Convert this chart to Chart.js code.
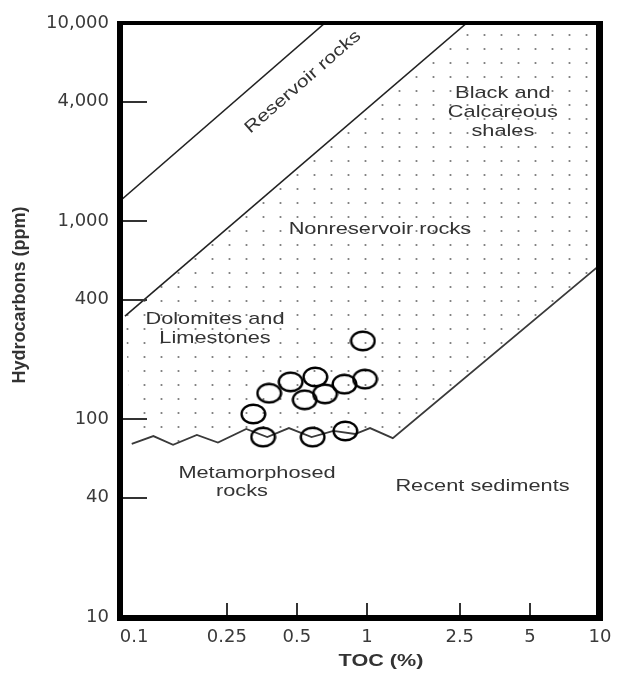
<!DOCTYPE html>
<html>
<head>
<meta charset="utf-8">
<script src="https://cdn.jsdelivr.net/npm/chart.js@4.4.1/dist/chart.umd.min.js"></script>
<style>
  html, body { margin: 0; padding: 0; background: #fff; }
  canvas { display: block; }
</style>
</head>
<body>
<canvas id="toc-chart" width="624" height="673"></canvas>
<script>
// axis limits and tick labels (log-log)
const xMin = 0.087, xMax = 10;
const yMin = 10, yMax = 10000;
const xTicks = [0.1, 0.25, 0.5, 1, 2.5, 5, 10];
const yTicks = [10, 40, 100, 400, 1000, 4000, 10000];
const xInnerTicks = [0.25, 0.5, 1, 2.5, 5];
const yInnerTicks = [40, 100, 400, 1000, 4000];

// samples (open circles)
const sampleToc = [0.96, 0.47, 0.60, 0.38, 0.54, 0.66, 0.80, 0.98, 0.325, 0.358, 0.584, 0.807];
const sampleHc  = [248, 154, 163, 135, 125, 134, 150, 159, 106, 81, 81, 87];

// upper limit of reservoir rocks
const reservoirTopToc = [0.087, 0.66];
const reservoirTopHc  = [1262, 10000];
// reservoir / nonreservoir boundary
const reservoirBaseToc = [0.0914, 2.68];
const reservoirBaseHc  = [331, 10000];
// metamorphosed zigzag, then recent sediments boundary
const lowerToc = [0.0977, 0.121, 0.147, 0.186, 0.229, 0.303, 0.373, 0.462, 0.578, 0.717, 0.889, 1.03, 1.29, 10];
const lowerHc  = [74.8, 82, 74, 83, 76, 89, 81, 90, 81, 87, 84, 90, 80, 600];

function pts(xs, ys) {
    return xs.map((x, i) => ({x: x, y: ys[i]}));
}

// dotted area = nonreservoir rocks field
let stipple = pts(reservoirBaseToc, reservoirBaseHc);
stipple.push({x: xMax, y: yMax});
stipple = stipple.concat(pts(lowerToc, lowerHc).reverse());

const canvas = document.getElementById('toc-chart');
const ctx = canvas.getContext('2d');

function dotPattern() {
    let c = document.createElement('canvas');
    c.width = 17; c.height = 14;
    let g = c.getContext('2d');
    g.fillStyle = '#7a7a7a';
    g.beginPath();
    g.arc(8.5, 7, 1.1, 0, Math.PI * 2);
    g.fill();
    return ctx.createPattern(c, 'repeat');
}

function ellipseMarker(w, h, lw) {
    let c = document.createElement('canvas');
    c.width = w; c.height = h;
    let g = c.getContext('2d');
    g.strokeStyle = '#000';
    g.lineWidth = lw;
    g.beginPath();
    g.ellipse(w / 2, h / 2, w / 2 - lw / 2 - 0.5, h / 2 - lw / 2 - 0.5, 0, 0, Math.PI * 2);
    g.stroke();
    return c;
}

// text labels, anchored in data units
const fieldLabels = [
    {lines: ['Black and', 'Calcareous', 'shales'], x: 3.83, y: 3556},
    {lines: ['Nonreservoir rocks'], x: 1.136, y: 912},
    {lines: ['Dolomites and', 'Limestones'], x: 0.2225, y: 286},
    {lines: ['Metamorphosed'], x: 0.337, y: 53.4},
    {lines: ['rocks'], x: 0.2905, y: 43.2},
    {lines: ['Recent sediments'], x: 3.13, y: 45.9}
];

function stretchText(c, text, x, y, font, stretch, angle) {
    c.save();
    c.translate(x, y);
    if (angle) c.rotate(angle);
    c.scale(stretch, 1);
    c.font = font;
    c.fillStyle = '#333';
    c.textAlign = 'center';
    c.textBaseline = 'middle';
    c.fillText(text, 0, 0);
    c.restore();
}

const decorPlugin = {
    id: 'decor',
    afterDatasetsDraw(chart) {
        const c = chart.ctx;
        const xs = chart.scales.x, ys = chart.scales.y;
        const a = chart.chartArea;

        // inner tick marks
        c.save();
        c.strokeStyle = '#333';
        c.lineWidth = 2;
        yInnerTicks.forEach(v => {
            let py = Math.round(ys.getPixelForValue(v));
            c.beginPath(); c.moveTo(a.left, py); c.lineTo(a.left + 27, py); c.stroke();
        });
        xInnerTicks.forEach(v => {
            let px = Math.round(xs.getPixelForValue(v));
            c.beginPath(); c.moveTo(px, a.bottom); c.lineTo(px, a.bottom - 14); c.stroke();
        });

        // heavy frame
        c.fillStyle = '#000';
        c.fillRect(a.left - 3, a.top - 2, 6, a.bottom - a.top + 6);
        c.fillRect(a.left - 3, a.bottom - 2, a.right - a.left + 6, 6);
        c.fillRect(a.right - 4, a.top - 2, 7, a.bottom - a.top + 6);
        c.fillRect(a.left - 3, a.top - 2, a.right - a.left + 6, 4);
        c.restore();

        const font = '17px "Liberation Sans", Arial, sans-serif';
        fieldLabels.forEach(l => {
            let px = xs.getPixelForValue(l.x);
            let py = ys.getPixelForValue(l.y);
            let top = py - (l.lines.length - 1) * 19 / 2;
            l.lines.forEach((t, i) => stretchText(c, t, px, top + i * 19, font, 1.28, 0));
        });

        // rotated label along the upper reservoir line
        let x0 = xs.getPixelForValue(reservoirTopToc[0]), y0 = ys.getPixelForValue(reservoirTopHc[0]);
        let x1 = xs.getPixelForValue(reservoirTopToc[1]), y1 = ys.getPixelForValue(reservoirTopHc[1]);
        let ang = Math.atan2(y1 - y0, x1 - x0);
        stretchText(c, 'Reservoir rocks', xs.getPixelForValue(0.531), ys.getPixelForValue(5035), font, 1.25, ang);

        // axis titles
        stretchText(c, 'TOC (%)', 381, 661, 'bold 17px "Liberation Sans", Arial, sans-serif', 1.27, 0);
        stretchText(c, 'Hydrocarbons (ppm)', 20, 295, 'bold 18px "Liberation Sans", Arial, sans-serif', 1, -Math.PI / 2);
    }
};

const tickFont = {family: '"DejaVu Sans", sans-serif', size: 18};

new Chart(canvas, {
    type: 'scatter',
    data: {
        datasets: [
            {
                data: pts(sampleToc, sampleHc),
                pointStyle: ellipseMarker(27, 22, 2.4),
                pointRadius: 11,
                showLine: false
            },
            {
                data: pts(reservoirTopToc, reservoirTopHc),
                showLine: true, borderColor: '#222', borderWidth: 1.6, pointRadius: 0
            },
            {
                data: pts(reservoirBaseToc, reservoirBaseHc),
                showLine: true, borderColor: '#222', borderWidth: 1.6, pointRadius: 0
            },
            {
                data: pts(lowerToc, lowerHc),
                showLine: true, borderColor: '#3a3a3a', borderWidth: 1.8, pointRadius: 0, tension: 0
            },
            {
                data: stipple,
                showLine: true, borderWidth: 0, pointRadius: 0,
                borderColor: 'rgba(0,0,0,0)',
                backgroundColor: dotPattern(),
                fill: 'shape'
            }
        ]
    },
    options: {
        responsive: false,
        devicePixelRatio: 1,
        animation: false,
        events: [],
        layout: {padding: {top: 23, right: 24, left: 0, bottom: 0}},
        plugins: {legend: {display: false}, tooltip: {enabled: false}},
        scales: {
            x: {
                type: 'logarithmic', min: xMin, max: xMax,
                afterBuildTicks: s => { s.ticks = xTicks.map(v => ({value: v})); },
                afterFit: s => { s.height = 56; },
                grid: {display: false, drawTicks: false},
                border: {display: false},
                ticks: {font: tickFont, color: '#3a3a3a', padding: 10, maxRotation: 0, autoSkip: false,
                        callback: v => String(v)}
            },
            y: {
                type: 'logarithmic', min: yMin, max: yMax,
                afterBuildTicks: s => { s.ticks = yTicks.map(v => ({value: v})); },
                afterFit: s => { s.width = 120; },
                grid: {display: false, drawTicks: false},
                border: {display: false},
                ticks: {font: tickFont, color: '#3a3a3a', padding: 11, autoSkip: false,
                        callback: v => Number(v).toLocaleString('en-US')}
            }
        }
    },
    plugins: [decorPlugin]
});
</script>
</body>
</html>
